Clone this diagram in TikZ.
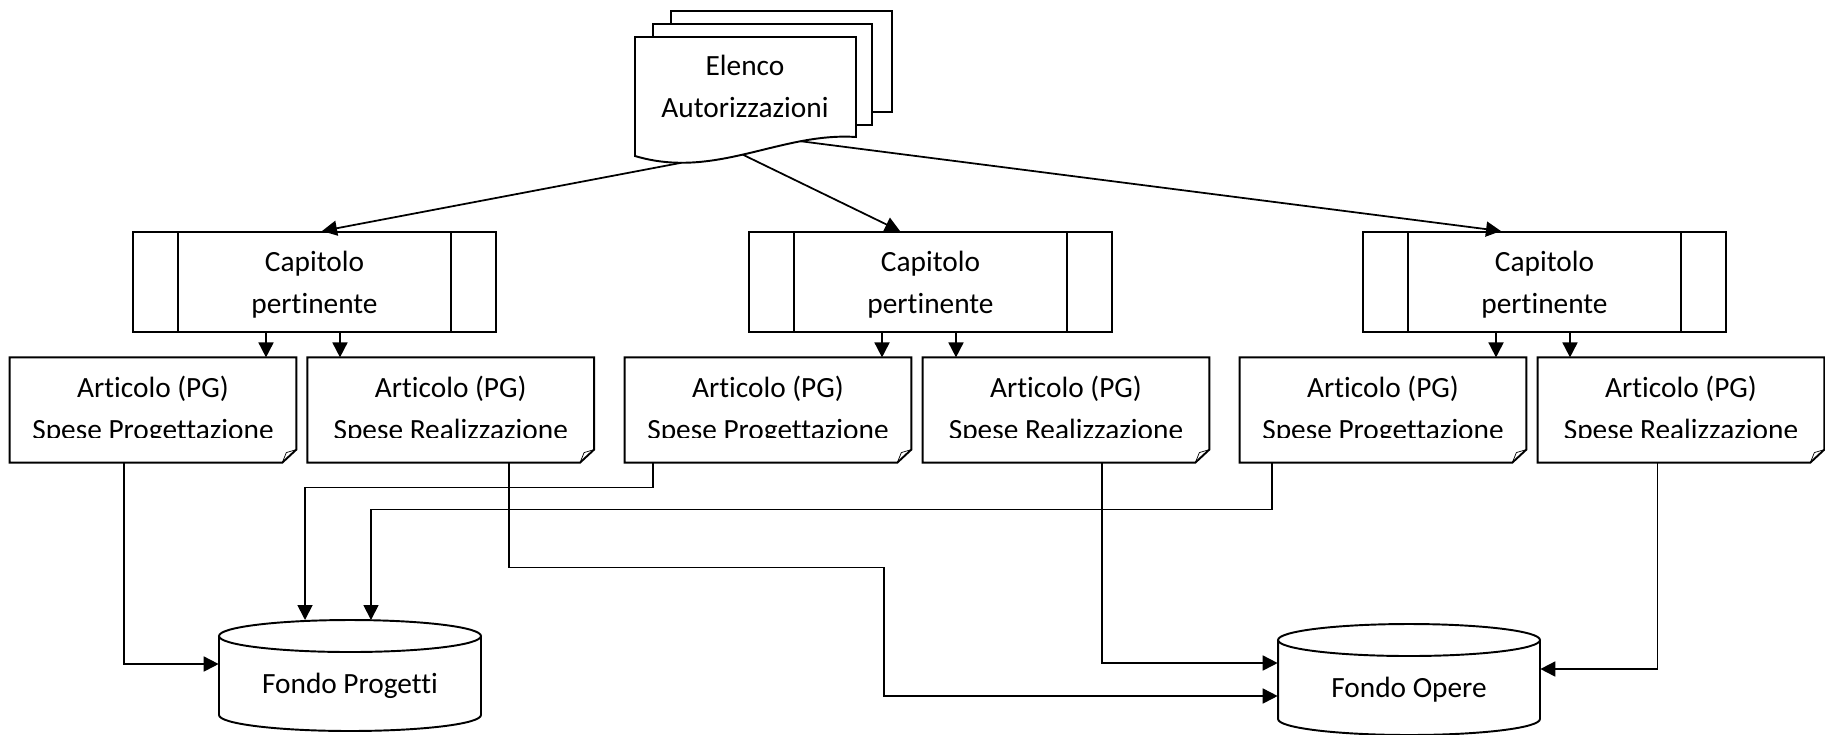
\documentclass[tikz,border=0pt]{standalone}
\usepackage{fontspec}
\setmainfont{Carlito}[Ligatures={NoCommon}]
\usetikzlibrary{arrows.meta,calc}

\newcommand{\sidebars}[1]{%
  \draw[outline] ([xshift=0.91cm]#1.north west) -- ([xshift=0.91cm]#1.south west);
  \draw[outline] ([xshift=-0.91cm]#1.north east) -- ([xshift=-0.91cm]#1.south east);}
\newcommand{\dogear}[1]{%
  \fill[white] ([xshift=2pt,yshift=2pt]#1.south west) rectangle ([xshift=-0.3cm,yshift=0.5cm]#1.south east);
  \draw[outline] (#1.north west) -- (#1.north east) -- ([yshift=0.26cm]#1.south east)
    -- ([xshift=-0.28cm]#1.south east) -- (#1.south west) -- cycle;
  \draw[thin] ([yshift=0.26cm]#1.south east) -- ([xshift=-0.2cm,yshift=0.2cm]#1.south east)
    -- ([xshift=-0.28cm]#1.south east);}
\newcommand{\drum}[1]{%
  \draw[outline] ([xshift=-2.62cm,yshift=0.99cm]#1.center) -- ([xshift=-2.62cm,yshift=-0.59cm]#1.center)
    arc[start angle=180,end angle=360,x radius=2.62cm,y radius=0.32cm]
    -- ([xshift=2.62cm,yshift=0.99cm]#1.center);
  \draw[outline] ([yshift=0.99cm]#1.center) ellipse[x radius=2.62cm,y radius=0.32cm];}

\begin{document}
\begin{tikzpicture}[x=0.02cm,y=-0.02cm,
        outline/.style = {line width=1.1pt},
        txt/.style = {align=center, inner sep=0pt, font=\fontsize{16.7}{23.9}\selectfont},
        capbox/.style = {txt, draw, line width=1.1pt, minimum width=7.26cm, minimum height=2cm, text depth=0pt},
        artbox/.style = {txt, minimum width=5.72cm, minimum height=2.09cm},
        arr/.style = {line width=1pt, -{Triangle[length=0.3cm,width=0.3cm]}},]
    \useasboundingbox (0,0) rectangle (1825,734);

    % elenco (stack of documents)
    \draw[outline, fill=white] (671,11) rectangle (892,112);
    \draw[outline, fill=white] (653,24) rectangle (872,125);
    \draw[outline, fill=white] (635,37) -- (856,37) -- (856,137)
        .. controls (780,132) and (715,180) .. (635,156)
        coordinate[pos=0.25] (w3) coordinate[pos=0.52] (w2) coordinate[pos=0.8] (w1) -- cycle;
    \node[txt, minimum width=4.42cm] (elenco) at (745,86) {Elenco\\Autorizzazioni};

    % capitoli
    \node[capbox] (cap1) at (314.5,282) {Capitolo\\pertinente};
    \node[capbox] (cap2) at (930.5,282) {Capitolo\\pertinente};
    \node[capbox] (cap3) at (1544.5,282) {Capitolo\\pertinente};
    \sidebars{cap1} \sidebars{cap2} \sidebars{cap3}

    % articoli
    \node[artbox] (art1) at (153,410) {Articolo (PG)\\Spese Progettazione};
    \node[artbox] (art2) at (450.75,410) {Articolo (PG)\\Spese Realizzazione};
    \node[artbox] (art3) at (768,410) {Articolo (PG)\\Spese Progettazione};
    \node[artbox] (art4) at (1066,410) {Articolo (PG)\\Spese Realizzazione};
    \node[artbox] (art5) at (1383,410) {Articolo (PG)\\Spese Progettazione};
    \node[artbox] (art6) at (1681,410) {Articolo (PG)\\Spese Realizzazione};
    \foreach \n in {1,...,6} {\dogear{art\n}}

    % fondi
    \node[txt, minimum width=5.24cm] (fp) at (350,685.5) {Fondo Progetti};
    \node[txt, minimum width=5.24cm] (fo) at (1409,689.5) {Fondo Opere};
    \drum{fp} \drum{fo}

    \draw[arr] (w1) -- ([xshift=0.15cm]cap1.north);
    \draw[arr] (w2) -- ([xshift=-0.61cm]cap2.north);
    \draw[arr] (w3) -- ([xshift=-0.87cm]cap3.north);

    \foreach \k/\pg/\rz in {1/1/2, 2/3/4, 3/5/6} {
        \draw[arr] ([xshift=-0.97cm]cap\k.south) -- ([xshift=-0.97cm]cap\k.south |- art\pg.north);
        \draw[arr] ([xshift=0.51cm]cap\k.south) -- ([xshift=0.51cm]cap\k.south |- art\rz.north);
    }

    \draw[arr] ([xshift=-0.58cm]art1.south) |- ([yshift=0.43cm]fp.west);
    \draw[arr] ([xshift=1.16cm]art2.south) -- ++(0,105) -- ++(375,0) |- ([yshift=-0.13cm]fo.west);
    \draw[arr] ([xshift=-2.3cm]art3.south) -- ++(0,25) -| ([xshift=-0.9cm,yshift=1.31cm]fp.center);
    \draw[arr] ([xshift=0.72cm]art4.south) |- ([yshift=0.53cm]fo.west);
    \draw[arr] ([xshift=-2.22cm]art5.south) -- ++(0,47) -| ([xshift=0.42cm,yshift=1.31cm]fp.center);
    \draw[arr] ([xshift=-0.47cm]art6.south) |- ([yshift=0.41cm]fo.east);
\end{tikzpicture}
\end{document}
